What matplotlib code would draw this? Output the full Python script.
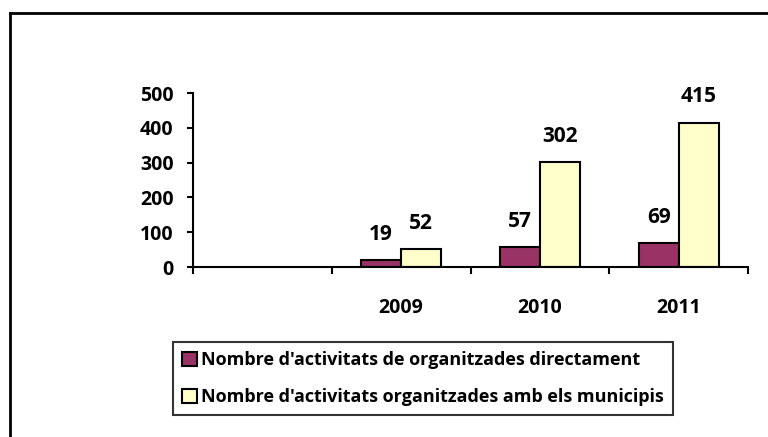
import matplotlib
matplotlib.use("Agg")
from matplotlib import pyplot as plt
from matplotlib.lines import Line2D
import numpy as np

plt.rcParams['font.family'] = ['Open Sans', 'DejaVu Sans']
plt.rcParams['font.weight'] = 'bold'

# data
categories = ["", "2009", "2010", "2011"]
directes = [None, 19, 57, 69]
municipis = [None, 52, 302, 415]
labels = ["Nombre d'activitats de organitzades directament",
          "Nombre d'activitats organitzades amb els municipis"]
yticks = [0, 100, 200, 300, 400, 500]

fig = plt.figure(figsize=(7.68, 4.37), dpi=100)
ax = fig.add_axes([0.2513, 0.389, 0.7227, 0.398])

x = np.arange(len(categories))
w = 0.288
mask = np.array([v is not None for v in directes])
xd = x[mask]
vd = np.array([v for v in directes if v is not None])
vm = np.array([v for v in municipis if v is not None])

b1 = ax.bar(xd - w / 2, vd, w, color="#993366", edgecolor="black", linewidth=1.5, label=labels[0])
b2 = ax.bar(xd + w / 2, vm, w, color="#FFFFCC", edgecolor="black", linewidth=1.5, label=labels[1])

for bars, vals in [(b1, vd), (b2, vm)]:
    for bar, v in zip(bars, vals):
        ax.annotate(str(v), (bar.get_x() + bar.get_width() / 2, v),
                    xytext=(0, 11), textcoords="offset points",
                    ha="center", va="bottom", fontsize=15, fontweight="bold")

ax.set_xlim(-0.5, len(categories) - 0.5)
ax.set_ylim(0, 500)
ax.set_yticks(yticks)
ax.set_xticks(x)
ax.set_xticklabels(categories)
ax.set_xticks(np.arange(len(categories) + 1) - 0.5, minor=True)
ax.tick_params(axis="x", which="major", length=0, pad=22, labelsize=14)
ax.tick_params(axis="x", which="minor", length=5, width=1.5, direction="out")
ax.tick_params(axis="y", length=4, width=1.5, pad=10, labelsize=14)

for s in ["top", "right"]:
    ax.spines[s].set_visible(False)
for s in ["left", "bottom"]:
    ax.spines[s].set_linewidth(1.5)

leg = fig.legend(handles=[b1, b2], loc="upper left", bbox_to_anchor=(0.2253, 0.2174),
                 fontsize=13, frameon=True, fancybox=False, edgecolor="black",
                 handlelength=0.8, handleheight=0.8, handletextpad=0.25,
                 borderpad=0.5, borderaxespad=0, labelspacing=1.05)
leg.get_frame().set_linewidth(1.5)

# chart area border (left and top only visible)
fig.add_artist(Line2D([10 / 768, 10 / 768], [0, 1 - 13 / 437], color="black", linewidth=2))
fig.add_artist(Line2D([10 / 768, 1], [1 - 13 / 437, 1 - 13 / 437], color="black", linewidth=2))

fig.savefig("out.png", dpi=100)
